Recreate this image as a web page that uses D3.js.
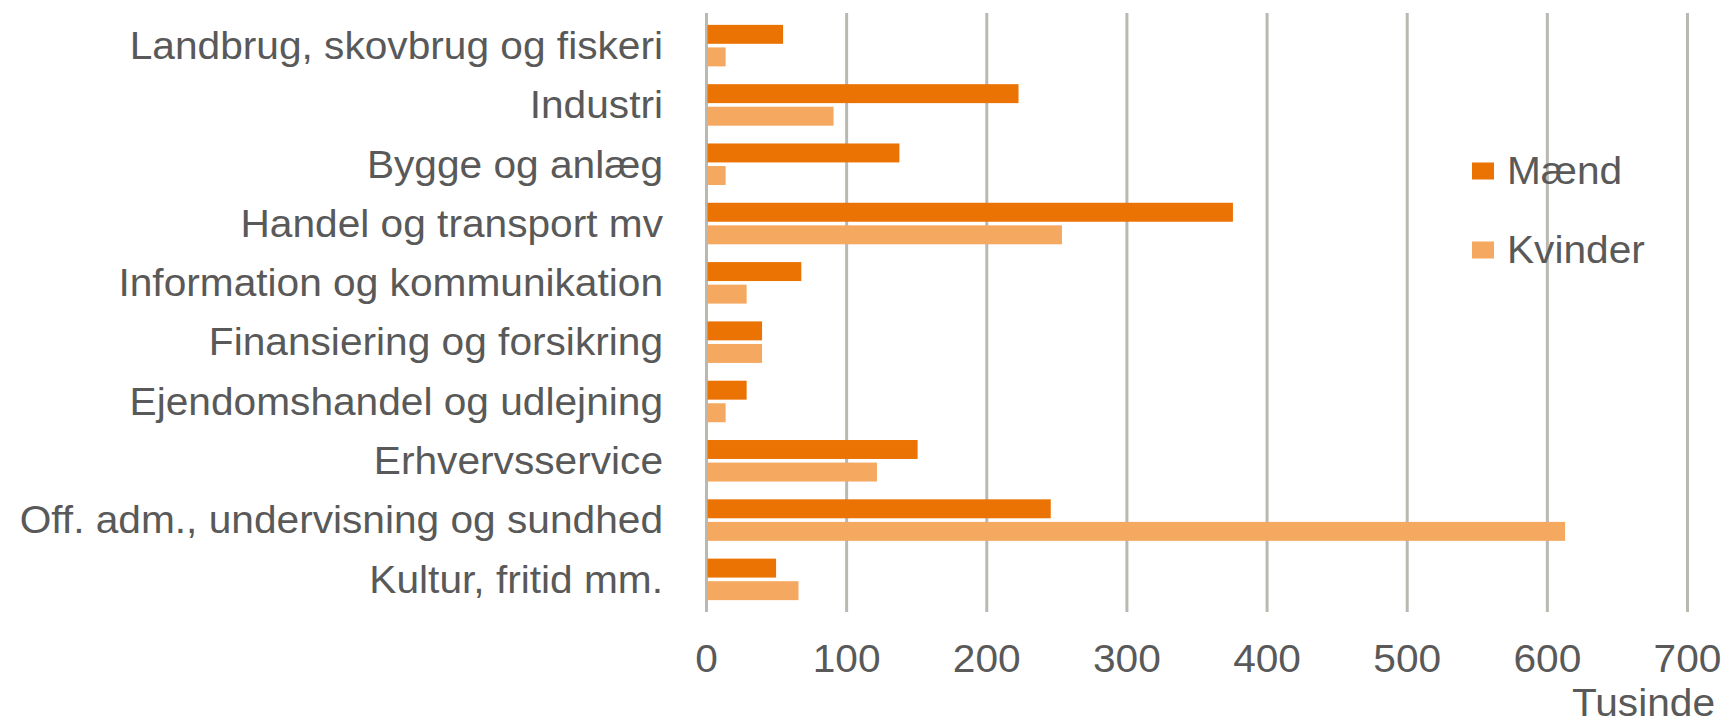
<!DOCTYPE html>
<html>
<head>
<meta charset="utf-8">
<script src="https://cdn.jsdelivr.net/npm/d3@7"></script>
<style>
  body { margin: 0; background: #fff; }
  text { font-family: "Liberation Sans", Arial, sans-serif; fill: #595959; }
</style>
</head>
<body>
<script>
// data (tusinde beskæftigede)
var categories = [
  "Landbrug, skovbrug og fiskeri",
  "Industri",
  "Bygge og anlæg",
  "Handel og transport mv",
  "Information og kommunikation",
  "Finansiering og forsikring",
  "Ejendomshandel og udlejning",
  "Erhvervsservice",
  "Off. adm., undervisning og sundhed",
  "Kultur, fritid mm."
];
var maend   = [55, 223, 138, 376, 68, 40, 29, 151, 246, 50];
var kvinder = [14,  91,  14, 254, 29, 40, 14, 122, 613, 66];
var seriesNames = ["Mænd", "Kvinder"];
var xTicks = [0, 100, 200, 300, 400, 500, 600, 700];
var unitLabel = "Tusinde";

var colors = {"Mænd": "#eb7303", "Kvinder": "#f5a860"};
var width = 1733, height = 725;
var fontSize = 38, stretch = 1.07;
var plotTop = 13, plotBottom = 612;

var svg = d3.select("body").append("svg")
    .attr("width", width)
    .attr("height", height);

var x = d3.scaleLinear().domain([0, 700]).range([706, 1687]);

var y0 = d3.scaleBand()
    .domain(categories)
    .range([plotTop, plotBottom])
    .paddingInner(0.3)
    .paddingOuter(0.2);

var y1 = d3.scaleBand()
    .domain(seriesNames)
    .range([0, y0.bandwidth()])
    .paddingInner(0.16);

// gridlines + tick labels
var xAxis = svg.append("g")
    .attr("transform", "translate(0," + plotBottom + ")")
    .call(d3.axisBottom(x).tickValues(xTicks).tickSize(-(plotBottom - plotTop)).tickPadding(0));
xAxis.select(".domain").remove();
xAxis.selectAll(".tick line")
    .attr("stroke", "#b9b9b1")
    .attr("stroke-width", 3);
xAxis.selectAll(".tick text")
    .attr("y", 47)
    .attr("dy", "0.35em")
    .attr("transform", "scale(" + stretch + ",1)")
    .style("font-size", fontSize + "px")
    .style("font-family", null)
    .attr("fill", null);

// category labels
var yAxis = svg.append("g")
    .attr("transform", "translate(663,0)")
    .call(d3.axisLeft(y0).tickSize(0).tickPadding(0));
yAxis.select(".domain").remove();
yAxis.selectAll(".tick text")
    .attr("x", 0)
    .attr("dy", "0.35em")
    .attr("transform", "scale(" + stretch + ",1)")
    .style("font-size", fontSize + "px")
    .style("font-family", null)
    .attr("fill", null);

// bars
var rows = categories.map(function(c, i) {
  return {cat: c, values: [
    {key: "Mænd", value: maend[i]},
    {key: "Kvinder", value: kvinder[i]}
  ]};
});

var group = svg.append("g").selectAll("g")
    .data(rows)
  .enter().append("g")
    .attr("transform", function(d) { return "translate(0," + y0(d.cat) + ")"; });

group.selectAll("rect")
    .data(function(d) { return d.values; })
  .enter().append("rect")
    .attr("x", x(0) + 1.5)
    .attr("y", function(d) { return y1(d.key); })
    .attr("height", y1.bandwidth())
    .attr("width", function(d) { return x(d.value) - x(0) - 1.5; })
    .attr("fill", function(d) { return colors[d.key]; });

// legend
var legend = svg.append("g").selectAll("g")
    .data(seriesNames)
  .enter().append("g")
    .attr("transform", function(d, i) { return "translate(1472," + (171 + i * 79) + ")"; });

legend.append("rect")
    .attr("x", 0)
    .attr("y", -8.5)
    .attr("width", 22)
    .attr("height", 17)
    .attr("fill", function(d) { return colors[d]; });

legend.append("text")
    .attr("transform", "translate(35,0) scale(" + stretch + ",1)")
    .attr("dy", "0.35em")
    .style("font-size", fontSize + "px")
    .text(function(d) { return d; });

// unit label
svg.append("text")
    .attr("transform", "translate(1715,703) scale(" + stretch + ",1)")
    .attr("text-anchor", "end")
    .attr("dy", "0.35em")
    .style("font-size", fontSize + "px")
    .text(unitLabel);
</script>
</body>
</html>
